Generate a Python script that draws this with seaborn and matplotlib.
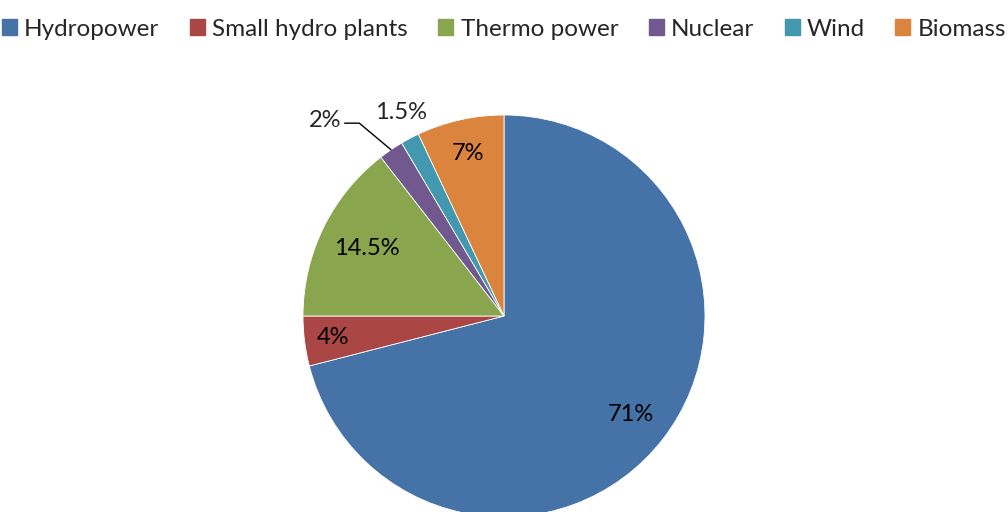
import numpy as np
import matplotlib
matplotlib.use('Agg')
import matplotlib.pyplot as plt
import seaborn as sns

sources = ['Hydropower', 'Small hydro plants', 'Thermo power', 'Nuclear', 'Wind', 'Biomass']
shares = [71, 4, 14.5, 2, 1.5, 7]
share_labels = ['71%', '4%', '14.5%', '2%', '1.5%', '7%']
colors = ['#4572A7', '#AA4643', '#89A54E', '#71588F', '#4198AF', '#DB843D']

sns.set_style('white')
plt.rcParams['font.family'] = ['Lato', 'DejaVu Sans']

fig = plt.figure(figsize=(10.08, 5.12), dpi=100)
# pie centred at (504, 316) px, radius ~201 px
ax = fig.add_axes([303 / 1008, (196 - 201) / 512, 402 / 1008, 402 / 512])

wedges, _ = ax.pie(shares, colors=colors, startangle=90, counterclock=False,
                   wedgeprops=dict(edgecolor='white', linewidth=0.6))
ax.set_xlim(-1, 1)
ax.set_ylim(-1, 1)
ax.set_aspect('equal')
ax.axis('off')

fs = 17

# label radius (fraction of pie radius) for the inside labels
label_r = [0.80, 0.86, 0.76, None, None, 0.83]
for w, lab, r in zip(wedges, share_labels, label_r):
    mid = np.deg2rad((w.theta1 + w.theta2) / 2)
    if r is not None:
        ax.text(r * np.cos(mid), r * np.sin(mid), lab, ha='center', va='center',
                fontsize=fs, color='black', clip_on=False)

# outside labels
w_nuc = wedges[3]
mid = np.deg2rad((w_nuc.theta1 + w_nuc.theta2) / 2)
ax.annotate('2%', xy=(np.cos(mid), np.sin(mid)), xytext=(-0.89, 0.975),
            ha='center', va='center', fontsize=fs, annotation_clip=False,
            arrowprops=dict(arrowstyle='-', color='black', lw=1,
                            shrinkA=0, shrinkB=0, relpos=(1.1, 0.35),
                            connectionstyle='angle,angleA=0,angleB=140,rad=0'))
ax.text(-0.51, 1.01, '1.5%', ha='center', va='center', fontsize=fs, clip_on=False)

handles = [plt.Rectangle((0, 0), 1, 1, color=c) for c in colors]
fig.legend(handles, sources, loc='center', bbox_to_anchor=(0.5, 1 - 29 / 512),
           ncol=6, frameon=False, fontsize=17.5, handlelength=0.62, handleheight=0.62,
           handletextpad=0.3, columnspacing=1.25, borderaxespad=0.0, borderpad=0.0)

fig.savefig('out.png', dpi=100)
